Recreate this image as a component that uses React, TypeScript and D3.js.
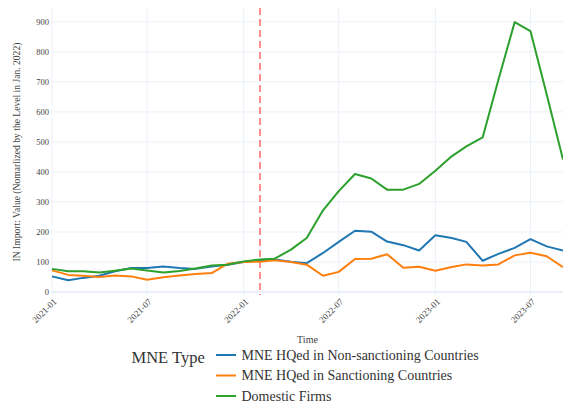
import React from "react";
import * as d3 from "d3";

const months: string[] = [
  "2021-01","2021-02","2021-03","2021-04","2021-05","2021-06","2021-07","2021-08","2021-09","2021-10","2021-11","2021-12",
  "2022-01","2022-02","2022-03","2022-04","2022-05","2022-06","2022-07","2022-08","2022-09","2022-10","2022-11","2022-12",
  "2023-01","2023-02","2023-03","2023-04","2023-05","2023-06","2023-07","2023-08","2023-09",
];
const nonSanctioning: number[] = [52,39,47,54,69,80,80,85,80,77,85,91,100,105,108,101,96,130,167,204,201,168,156,138,189,180,167,104,127,147,176,152,138];
const sanctioning: number[] = [72,57,54,50,55,52,41,49,55,60,63,94,100,101,106,100,91,54,67,110,111,126,81,84,71,83,92,88,92,122,131,119,83];
const domestic: number[] = [77,69,69,65,71,78,72,65,70,78,88,91,102,108,111,141,180,272,336,393,378,341,341,360,404,452,485,515,707,899,869,658,441];

const seriesNames: string[] = [
  "MNE HQed in Non-sanctioning Countries",
  "MNE HQed in Sanctioning Countries",
  "Domestic Firms",
];
const seriesColors: string[] = ["#1f77b4", "#ff7f0e", "#2ca02c"];
const xTicks: string[] = ["2021-01","2021-07","2022-01","2022-07","2023-01","2023-07"];
const yTicks: number[] = [0,100,200,300,400,500,600,700,800,900];
const eventDate = "2022-02";

const parse = d3.timeParse("%Y-%m");
const FONT = '"Liberation Serif", "Times New Roman", serif';

export default function App() {
  const W = 563, H = 404;
  const x = d3.scaleTime().domain([parse(months[0])!, parse(months[months.length - 1])!]).range([52, 563]);
  const y = d3.scaleLinear().domain([-10, 946]).range([295, 8]);
  const data = [nonSanctioning, sanctioning, domestic];
  const line = d3.line<number>().x((_, i) => x(parse(months[i])!)).y((d) => y(d));
  const ex = x(parse(eventDate)!);

  return (
    <svg width={W} height={H} style={{ position: "absolute", left: 0, top: 0, background: "#fff" }} fontFamily={FONT}>
      <rect x={0} y={0} width={W} height={H} fill="#fff" />
      {xTicks.map((t) => (
        <line key={"gx" + t} x1={x(parse(t)!)} x2={x(parse(t)!)} y1={8} y2={295} stroke="#ebf0f8" strokeWidth={1} />
      ))}
      {yTicks.map((t) => (
        <line key={"gy" + t} x1={52} x2={563} y1={y(t)} y2={y(t)} stroke="#ebf0f8" strokeWidth={t === 0 ? 2 : 1} />
      ))}
      {yTicks.map((t) => (
        <text key={"ty" + t} x={49} y={y(t)} dy="0.35em" textAnchor="end" fontSize={8.5} fill="#444">{t}</text>
      ))}
      {xTicks.map((t) => (
        <text key={"tx" + t} transform={`translate(${x(parse(t)!) + 3},${300}) rotate(-45)`} textAnchor="end" dy="0.35em" fontSize={9} fill="#444">{t}</text>
      ))}
      <line x1={ex} x2={ex} y1={8} y2={295} stroke="red" strokeOpacity={0.45} strokeWidth={2} strokeDasharray="7,4" />
      {data.map((d, i) => (
        <path key={"s" + i} d={line(d)!} fill="none" stroke={seriesColors[i]} strokeWidth={2} strokeLinejoin="round" />
      ))}
      <text x={307.5} y={343} textAnchor="middle" fontSize={10} fill="#444">Time</text>
      <text transform={`translate(20,${152}) rotate(-90)`} textAnchor="middle" fontSize={9.6} fill="#444">IN Import: Value (Nomarlized by the Level in Jan. 2022)</text>
      <text x={131.5} y={363} fontSize={16.5} fill="#333">MNE Type</text>
      {seriesNames.map((n, i) => (
        <g key={"lg" + i} transform={`translate(0,${355 + i * 20.5})`}>
          <line x1={216} x2={236} y1={0} y2={0} stroke={seriesColors[i]} strokeWidth={2} />
          <text x={241.5} y={0} dy="0.35em" fontSize={14} fill="#333">{n}</text>
        </g>
      ))}
    </svg>
  );
}
